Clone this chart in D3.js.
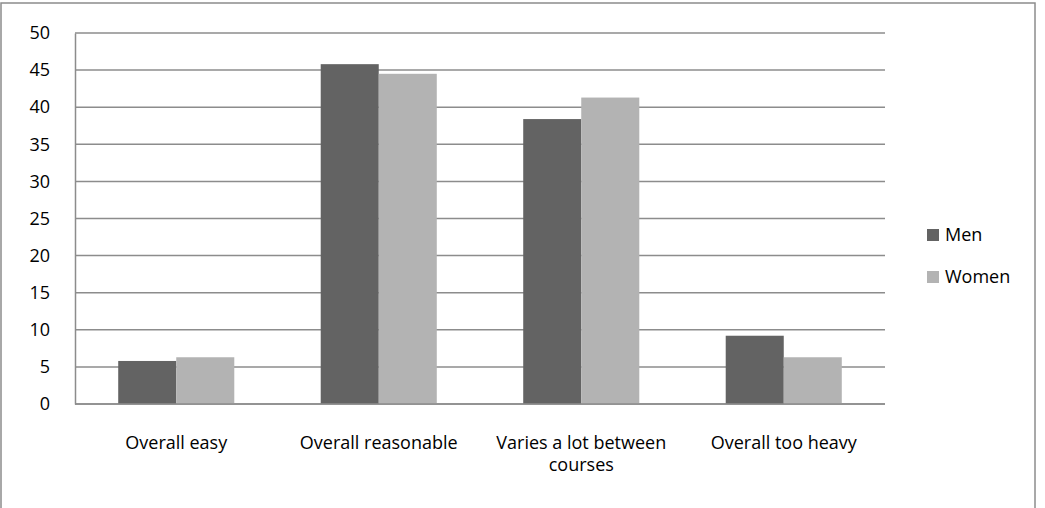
<!DOCTYPE html>
<html>
<head>
<meta charset="utf-8">
<script src="https://cdn.jsdelivr.net/npm/d3@7/dist/d3.min.js"></script>
<style>
  html, body { margin: 0; padding: 0; background: #fff; }
  svg text { font-family: "Open Sans", "Liberation Sans", sans-serif; fill: #000; }
</style>
</head>
<body>
<svg id="chart" width="1045" height="508"></svg>
<script>
const categories = ["Overall easy", "Overall reasonable", "Varies a lot between courses", "Overall too heavy"];
const seriesNames = ["Men", "Women"];
const menValues = [5.8, 45.8, 38.4, 9.2];
const womenValues = [6.3, 44.5, 41.3, 6.3];
const yTicks = [0, 5, 10, 15, 20, 25, 30, 35, 40, 45, 50];
const colors = ["#636363", "#b3b3b3"];

const svg = d3.select("#chart");
const W = 1045, H = 508;
const margin = { left: 75, right: 160, top: 33, bottom: 104 };
const plotW = W - margin.left - margin.right;   // 810
const plotH = H - margin.top - margin.bottom;   // 371
const fontSize = 18;

// chart frame
svg.append("rect")
  .attr("x", 1).attr("y", 3).attr("width", 1034).attr("height", 520)
  .attr("fill", "none").attr("stroke", "#8c8c8c").attr("stroke-width", 1.5);

const g = svg.append("g").attr("transform", `translate(${margin.left},${margin.top})`);

const x0 = d3.scaleBand().domain(categories).range([0, plotW]).paddingInner(0.4268).paddingOuter(0.2134);
const x1 = d3.scaleBand().domain(seriesNames).range([0, x0.bandwidth()]);
const y = d3.scaleLinear().domain([0, 50]).range([plotH, 0]);

// horizontal gridlines
g.append("g").selectAll("line").data(yTicks).join("line")
  .attr("x1", 0).attr("x2", plotW)
  .attr("y1", d => y(d)).attr("y2", d => y(d))
  .attr("stroke", "#8c8c8c").attr("stroke-width", 1.5);

// y axis
const yAxis = d3.axisLeft(y).tickValues(yTicks).tickSize(0).tickPadding(0);
const ya = g.append("g").call(yAxis);
ya.select(".domain").attr("stroke", "#8c8c8c").attr("stroke-width", 1.5);
ya.selectAll("text")
  .attr("x", -25)
  .attr("font-size", fontSize)
  .attr("font-family", "Open Sans, Liberation Sans, sans-serif");

// bars
const data = categories.map((c, i) => ({ cat: c, vals: [menValues[i], womenValues[i]] }));
const groups = g.append("g").selectAll("g").data(data).join("g")
  .attr("transform", d => `translate(${x0(d.cat)},0)`);
groups.selectAll("rect")
  .data(d => d.vals.map((v, j) => ({ name: seriesNames[j], v, j })))
  .join("rect")
  .attr("x", d => x1(d.name))
  .attr("y", d => y(d.v))
  .attr("width", x1.bandwidth())
  .attr("height", d => plotH - y(d.v))
  .attr("fill", d => colors[d.j]);

// x axis line
g.append("line")
  .attr("x1", 0).attr("x2", plotW).attr("y1", plotH).attr("y2", plotH)
  .attr("stroke", "#8c8c8c").attr("stroke-width", 1.5);

// category labels (wrapped)
const labelLines = {
  "Varies a lot between courses": ["Varies a lot between", "courses"]
};
const xl = g.append("g").selectAll("text").data(categories).join("text")
  .attr("text-anchor", "middle")
  .attr("font-size", fontSize)
  .attr("transform", d => `translate(${x0(d) + x0.bandwidth() / 2},${plotH + 45})`);
xl.each(function(d) {
  const lines = labelLines[d] || [d];
  d3.select(this).selectAll("tspan").data(lines).join("tspan")
    .attr("x", 0).attr("dy", (l, i) => i === 0 ? 0 : 22).text(l => l);
});

// legend
const legend = svg.append("g").attr("transform", "translate(927,229)");
seriesNames.forEach((name, i) => {
  const row = legend.append("g").attr("transform", `translate(0,${i * 42})`);
  row.append("rect").attr("width", 12).attr("height", 12).attr("fill", colors[i]);
  row.append("text").attr("x", 18).attr("y", 12).attr("font-size", fontSize).text(name);
});
</script>
</body>
</html>
